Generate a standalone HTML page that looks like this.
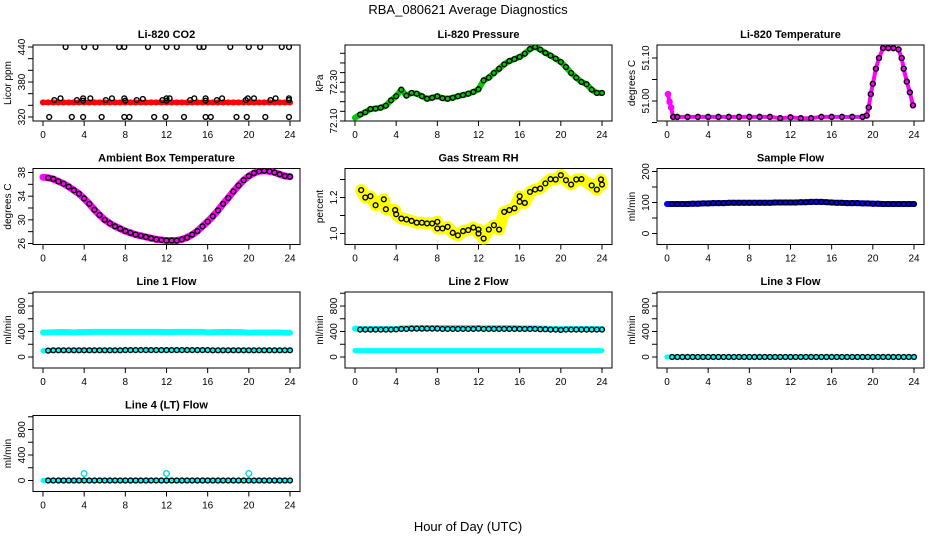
<!DOCTYPE html>
<html><head><meta charset="utf-8">
<style>
html,body{margin:0;padding:0;background:#fff;}
svg{display:block;font-family:"Liberation Sans",sans-serif;}
</style></head>
<body>
<svg id="chart" width="936" height="540" viewBox="0 0 936 540" xmlns="http://www.w3.org/2000/svg">
<text x="468" y="14" font-size="13" text-anchor="middle">RBA_080621  Average Diagnostics</text>
<text x="468" y="531" font-size="13" text-anchor="middle">Hour of Day (UTC)</text>
</svg>
<script>
const hours = [0,0.5,1,1.5,2,2.5,3,3.5,4,4.5,5,5.5,6,6.5,7,7.5,8,8.5,9,9.5,10,10.5,11,11.5,12,12.5,13,13.5,14,14.5,15,15.5,16,16.5,17,17.5,18,18.5,19,19.5,20,20.5,21,21.5,22,22.5,23,23.5,24];
const xTicks = [0,4,8,12,16,20,24];

const co2Red = [345,345,345,345,345,345,345,345,345,345,345,345,345,345,345,345,345,345,345,345,345,345,345,345,345,345,345,345,345,345,345,345,345,345,345,345,345,345,345,345,345,345,345,345,345,345,345,345,345];
const co2BlackHours = [1.1,1.7,3.3,3.9,3.9,4.6,6.1,6.7,7.9,8,9.1,9.7,11.6,12,12,12.3,14.3,14.7,15.8,15.8,16.9,17.4,19.7,19.9,20.5,22.1,22.6,23.9,23.9,2.2,4,5.1,7.4,7.9,10.2,12,13,15.2,15.6,18.2,20,21.1,23.2,23.9,0.6,2.8,3.9,5.7,7.9,8.4,10.8,11.9,13.7,15.8,16.3,18.8,19.8,21.6,23.9];
const co2Black = [349,352,349,352,348,352,349,352,352,348,349,351,349,352,348,352,349,352,352,348,349,352,349,352,352,349,352,352,349,440,440,440,440,440,440,440,440,440,440,440,440,440,440,440,320,320,320,320,320,320,320,320,320,320,320,320,320,320,320];

const pressure = [72.117,72.133,72.145,72.162,72.164,72.169,72.179,72.207,72.228,72.262,72.231,72.245,72.241,72.228,72.215,72.22,72.228,72.218,72.215,72.22,72.228,72.234,72.241,72.25,72.264,72.31,72.324,72.348,72.37,72.393,72.41,72.42,72.431,72.448,72.472,72.483,72.469,72.452,72.438,72.422,72.405,72.379,72.348,72.324,72.302,72.29,72.262,72.245,72.245];

const tempHours = [0.1,0.25,0.4,0.6,1,2,3,4,5,6,7,8,9,10,11,12,13,14,15,16,17,18,19,19.4,19.6,19.8,20,20.3,20.6,21,21.5,22,22.5,22.8,23,23.3,23.6,23.9];
const tempVals = [51.016,50.998,50.985,50.963,50.963,50.963,50.963,50.963,50.963,50.963,50.963,50.963,50.963,50.963,50.96,50.962,50.96,50.96,50.963,50.963,50.963,50.963,50.963,50.966,50.985,51.016,51.04,51.075,51.1,51.123,51.123,51.123,51.12,51.1,51.075,51.045,51.02,50.99];

const ambient = [37.2,37.1,36.9,36.5,36.1,35.6,35.0,34.4,33.6,32.7,31.7,30.8,30.0,29.4,28.9,28.5,28.1,27.8,27.5,27.3,27.1,26.9,26.7,26.6,26.5,26.5,26.5,26.7,27.0,27.5,28.1,28.9,29.7,30.6,31.6,32.7,33.7,34.8,35.8,36.7,37.4,37.9,38.2,38.3,38.2,38.0,37.7,37.4,37.3];

const rhHours = [0.6,1,1.5,2,2.8,3,3.9,4,4.5,5,5.5,6,6.5,7,7.5,8,8,8.5,9,9.5,10,10.5,11,11.5,12,12,12.5,13,13.5,14,14.5,15,15.5,16,16,16.5,17,17.5,18,18.5,19,19.5,20,20.5,21,21.5,22,23,23.5,23.9,24];
const rhVals = [1.241,1.2,1.207,1.157,1.19,1.135,1.13,1.107,1.083,1.078,1.07,1.06,1.06,1.056,1.056,1.065,1.028,1.028,1.037,1.004,0.99,1.013,1.019,1.033,1.0,1.022,0.972,1.022,1.046,1.022,1.12,1.13,1.14,1.207,1.176,1.17,1.231,1.244,1.25,1.278,1.302,1.3,1.324,1.296,1.272,1.3,1.302,1.267,1.244,1.3,1.272];

const sampleFlow = [95,95,95,95,95,96,96,97,97,98,98,98,99,99,99,99,99,99,99,99,99,100,100,100,100,100,101,101,102,102,102,101,100,99,99,98,98,98,97,97,96,96,95,95,95,95,95,95,95];
const line1Upper = [385,385,388,390,392,390,385,390,390,392,395,395,395,395,395,395,395,395,395,395,395,395,395,395,390,392,395,395,395,395,395,395,385,390,390,392,395,390,390,388,380,385,385,385,385,385,385,380,380];
const line1Lower = [100,100,105,105,105,105,105,105,105,105,105,105,105,105,105,105,108,108,108,108,108,108,108,108,108,108,108,108,108,108,108,108,108,105,105,105,105,105,105,105,105,105,105,105,105,105,105,105,105];
const line2Upper = [445,440,440,440,440,440,440,440,440,450,450,455,455,455,455,455,455,455,455,455,455,455,455,455,455,450,455,455,455,455,455,455,450,450,450,450,445,445,440,440,435,440,440,440,440,440,440,440,440];
const line2Black = [445,430,430,430,430,430,430,430,432,440,440,445,445,445,445,445,445,440,440,440,440,440,440,440,445,440,440,440,440,440,440,440,440,440,440,440,435,435,430,430,425,430,430,430,430,430,430,430,430];
const line2Lower = [100,100,100,100,100,100,100,100,100,100,100,100,100,100,100,100,100,100,100,100,100,100,100,100,100,100,100,100,100,100,100,100,100,100,100,100,100,100,100,100,100,100,100,100,100,100,100,100,100];
const line3 = [0,0,0,0,0,0,0,0,0,0,0,0,0,0,0,0,0,0,0,0,0,0,0,0,0,0,0,0,0,0,0,0,0,0,0,0,0,0,0,0,0,0,0,0,0,0,0,0,0];
const line4 = [0,0,0,0,0,0,0,0,0,0,0,0,0,0,0,0,0,0,0,0,0,0,0,0,0,0,0,0,0,0,0,0,0,0,0,0,0,0,0,0,0,0,0,0,0,0,0,0,0];
const line4OutlierHours = [4,12,20];
const line4Outliers = [110,110,110];

const svg = document.getElementById('chart');
const NS = 'http://www.w3.org/2000/svg';
function mk(tag, attrs, parent) {
  const e = document.createElementNS(NS, tag);
  for (const k in attrs) e.setAttribute(k, attrs[k]);
  (parent || svg).appendChild(e);
  return e;
}
const colLeft = [33, 345, 657];
const rowTop = [45, 168.5, 292, 415.5];
const BW = 267, BH = 76;

function panel(col, row, title, ylab, v0, p0, v1, p1, yTicks, yLabels, fmt) {
  const bx = colLeft[col], by = rowTop[row];
  const g = mk('g', {});
  
  
  const X = h => bx + 10 + h * 247 / 24;
  const Y = v => by + p0 + (v - v0) * (p1 - p0) / (v1 - v0);
  const box = mk('rect', {x: bx, y: by, width: BW, height: BH, fill: 'none', stroke: '#000', 'stroke-width': 1}, g);
  
  
  const t = mk('text', {x: bx + BW / 2, y: by - 7, 'font-size': 11, 'font-weight': 'bold', 'text-anchor': 'middle'}, g);
  t.textContent = title;
  
  
  const yl = mk('text', {transform: `translate(${bx - 22},${by + BH / 2}) rotate(-90)`, 'font-size': 10, 'text-anchor': 'middle'}, g);
  yl.textContent = ylab;
  
  
  xTicks.forEach(h => {
    mk('line', {x1: X(h), x2: X(h), y1: by + BH, y2: by + BH + 5, stroke: '#000'}, g);
    const tl = mk('text', {x: X(h), y: by + BH + 17, 'font-size': 10, 'text-anchor': 'middle'}, g);
    tl.textContent = h;
    
    
  });
  yTicks.forEach(v => {
    mk('line', {x1: bx, x2: bx - 5, y1: Y(v), y2: Y(v), stroke: '#000'}, g);
  });
  yLabels.forEach(v => {
    const tl = mk('text', {transform: `translate(${bx - 8},${Y(v)}) rotate(-90)`, 'font-size': 10, 'text-anchor': 'middle'}, g);
    tl.textContent = fmt(v);
    
    
  });
  const clip = 'clip' + col + row;
  const cp = mk('clipPath', {id: clip}, g);
  mk('rect', {x: bx, y: by, width: BW, height: BH}, cp);
  const dg = mk('g', {'clip-path': `url(#${clip})`}, g);
  return {
    band(hs, vs, color, w, name) {
      const p = mk('polyline', {points: hs.map((h, i) => X(h) + ',' + Y(vs[i])).join(' '), fill: 'none', stroke: color, 'stroke-width': w, 'stroke-linejoin': 'round', 'stroke-linecap': 'round'}, dg);
      
      
    },
    pts(hs, vs, color, name, r) {
      const pg = mk('g', {}, dg);
      
      
      hs.forEach((h, i) => {
        mk('circle', {cx: X(h), cy: Y(vs[i]), r: r || 2.4, fill: 'none', stroke: color, 'stroke-width': 1.4}, pg);
      });
    }
  };
}
const rng = (a, b, s) => { const o = []; for (let v = a; v <= b + 1e-9; v += s) o.push(+v.toFixed(4)); return o; };
const f0 = v => String(v), f1 = v => v.toFixed(1), f2 = v => v.toFixed(2);
const blackHours = hours.slice(1);

let p = panel(0, 0, 'Li-820 CO2', 'Licor ppm', 320, 72, 440, 2, rng(320, 440, 20), [320, 380, 440], f0);
p.band(hours, co2Red, '#ff0000', 5, 'co2-red-series');
p.pts(hours, co2Red, '#ff0000', 'co2-red-points', 2.4);
p.pts(co2BlackHours, co2Black, '#000', 'co2-black-points');

p = panel(1, 0, 'Li-820 Pressure', 'kPa', 72.10, 76, 72.30, 37.3, rng(72.10, 72.45, 0.05), [72.10, 72.30], f2);
p.band(hours, pressure, '#00cc00', 6, 'pressure-green-series');
p.pts(blackHours, pressure.slice(1), '#000', 'pressure-black-points');

p = panel(2, 0, 'Li-820 Temperature', 'degrees C', 51.00, 56, 51.10, 13, [50.95, 51.00, 51.05, 51.10], [51.00, 51.10], f2);
p.band(tempHours, tempVals, '#ff00ff', 4, 'temperature-magenta-series');
p.pts(tempHours, tempVals, '#ff00ff', 'temperature-magenta-points', 2.6);
p.pts(tempHours.slice(3), tempVals.slice(3), '#000', 'temperature-black-points');

p = panel(0, 1, 'Ambient Box Temperature', 'degrees C', 26, 75, 38, 4, rng(26, 38, 2), [26, 30, 34, 38], f0);
p.band(hours, ambient, '#ff00ff', 7, 'ambient-magenta-series');
p.pts(blackHours, ambient.slice(1), '#000', 'ambient-black-points');

p = panel(1, 1, 'Gas Stream RH', 'percent', 1.0, 65, 1.2, 29, [1.0, 1.1, 1.2, 1.3], [1.0, 1.2], f1);
p.band(rhHours, rhVals, '#ffff00', 12, 'rh-yellow-series');
p.pts(rhHours, rhVals, '#000', 'rh-black-points');

p = panel(2, 1, 'Sample Flow', 'ml/min', 0, 65, 200, 3, rng(0, 200, 50), [0, 100, 200], f0);
p.band(hours, sampleFlow, '#0000ff', 6, 'sample-flow-blue-series');
p.pts(blackHours, sampleFlow.slice(1), '#000', 'sample-flow-black-points');

p = panel(0, 2, 'Line 1 Flow', 'ml/min', 0, 65, 800, 14, rng(0, 1000, 200), [0, 400, 800], f0);
p.band(hours, line1Upper, '#00ffff', 6, 'line1-upper-cyan-series');
p.band(hours, line1Lower, '#00ffff', 5, 'line1-lower-cyan-series');
p.pts(blackHours, line1Lower.slice(1), '#000', 'line1-black-points');

p = panel(1, 2, 'Line 2 Flow', 'ml/min', 0, 65, 800, 14, rng(0, 1000, 200), [0, 400, 800], f0);
p.band(hours, line2Upper, '#00ffff', 6, 'line2-upper-cyan-series');
p.band(hours, line2Lower, '#00ffff', 5, 'line2-lower-cyan-series');
p.pts(blackHours, line2Black.slice(1), '#000', 'line2-black-points');

p = panel(2, 2, 'Line 3 Flow', 'ml/min', 0, 65, 800, 14, rng(0, 1000, 200), [0, 400, 800], f0);
p.band(hours, line3, '#00ffff', 5, 'line3-cyan-series');
p.pts(blackHours, line3.slice(1), '#000', 'line3-black-points');

p = panel(0, 3, 'Line 4 (LT) Flow', 'ml/min', 0, 65, 800, 14, rng(0, 1000, 200), [0, 400, 800], f0);
p.band(hours, line4, '#00ffff', 5, 'line4-cyan-series');
p.pts(line4OutlierHours, line4Outliers, '#00dddd', 'line4-outlier-points', 2.8);
p.pts(blackHours, line4.slice(1), '#000', 'line4-black-points');
</script>
</body></html>
